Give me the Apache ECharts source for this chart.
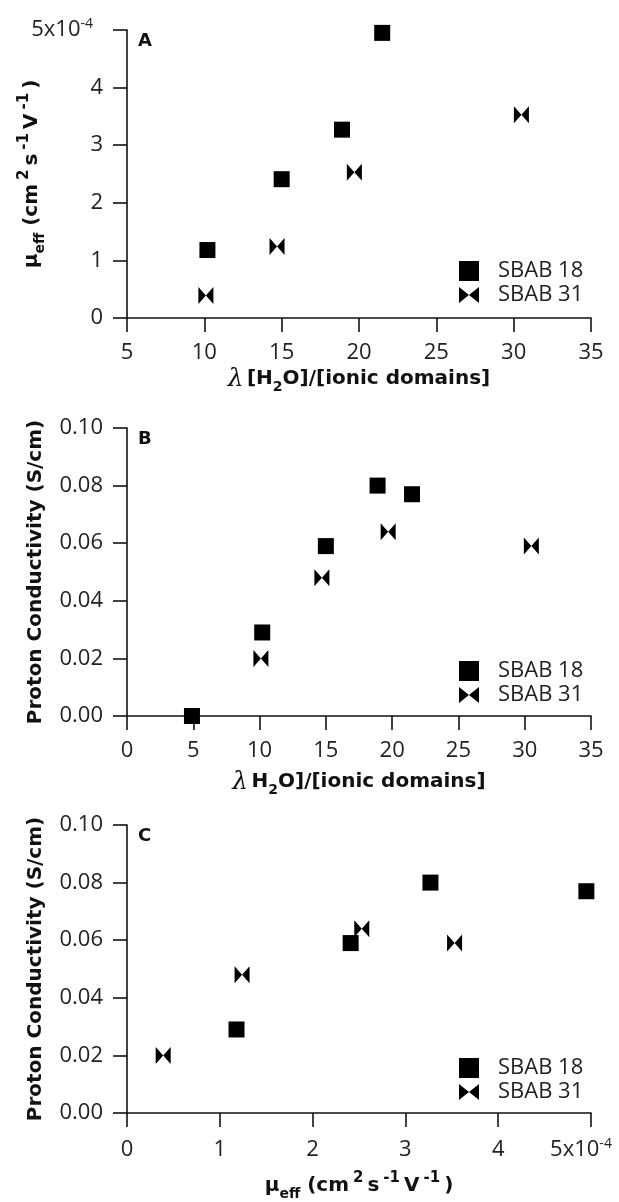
<!DOCTYPE html>
<html>
<head>
<meta charset="utf-8">
<script src="https://cdn.jsdelivr.net/npm/echarts@6/dist/echarts.min.js"></script>
<style>
    html, body { margin: 0; padding: 0; background: #fff; }
    #main { width: 619px; height: 1202px; }
</style>
</head>
<body>
<div id="main"></div>
<script>
// values
var sbab18Lambda = [4.9, 10.2, 15.0, 18.9, 21.5];
var sbab18Mobility = [null, 1.18, 2.41, 3.27, 4.95];   // x1e-4 cm2 s-1 V-1
var sbab18Cond = [0.000, 0.029, 0.059, 0.080, 0.077];  // S/cm

var sbab31Lambda = [10.1, 14.7, 19.7, 30.5];
var sbab31Mobility = [0.39, 1.24, 2.53, 3.53];
var sbab31Cond = [0.020, 0.048, 0.064, 0.059];

var lambdaTicksA = [5, 35, 5];      // min, max, step
var lambdaTicksB = [0, 35, 5];
var mobilityTicks = [0, 5, 1];
var condTicks = [0, 0.1, 0.02];

var seriesNames = ['SBAB 18', 'SBAB 31'];

var bowtie = 'path://M0,0L10,8L0,16ZM20,0L10,8L20,16Z';
var tickFont = '"Open Sans", "DejaVu Sans", sans-serif';
var titleFont = '"DejaVu Sans", Arial, sans-serif';

function pairs(xs, ys) {
    var out = [];
    for (var i = 0; i < xs.length; i++) {
        if (xs[i] == null || ys[i] == null) continue;
        out.push([xs[i], ys[i]]);
    }
    return out;
}

var tops = [30, 428, 825];

var titleRich = {
    b: { fontFamily: titleFont, fontWeight: 'bold', fontSize: 20, color: '#111', lineHeight: 30 },
    lam: { fontFamily: '"DejaVu Serif", serif', fontStyle: 'italic', fontSize: 25, color: '#111', lineHeight: 30 },
    sub: { fontFamily: titleFont, fontWeight: 'bold', fontSize: 14, color: '#111', lineHeight: 14, verticalAlign: 'bottom' },
    sup: { fontFamily: titleFont, fontWeight: 'bold', fontSize: 15, color: '#111', lineHeight: 15, verticalAlign: 'top', padding: [0, 4, 0, 4] }
};
var tickRich = {
    n: { fontFamily: tickFont, fontSize: 22, color: '#222', lineHeight: 26 },
    sx: { fontFamily: tickFont, fontSize: 14, color: '#222', lineHeight: 12, verticalAlign: 'top', padding: [0, 20, 0, 0] },
    sy: { fontFamily: tickFont, fontSize: 14, color: '#222', lineHeight: 12, verticalAlign: 'top', padding: [0, 10, 0, 0] }
};

function baseAxis(ticks, name, gap, extra) {
    var ax = {
        type: 'value',
        min: ticks[0], max: ticks[1], interval: ticks[2],
        splitLine: { show: false },
        axisLine: { lineStyle: { color: '#111', width: 1.6 } },
        axisTick: { inside: false, length: 14, lineStyle: { color: '#111', width: 1.6 } },
        axisLabel: { margin: 24, fontFamily: tickFont, fontSize: 22, color: '#222', rich: tickRich },
        name: name, nameLocation: 'middle', nameGap: gap,
        nameTextStyle: { rich: titleRich }
    };
    for (var k in extra) ax[k] = extra[k];
    return ax;
}

var mobilityTitle = '{b|μ}{sub|eff}{b| (cm}{sup|2}{b|s}{sup|-1}{b|V}{sup|-1}{b|)}';
var condTitle = '{b|Proton Conductivity (S/cm)}';

var xAxes = [
    baseAxis(lambdaTicksA, '{lam|λ} {b|[H}{sub|2}{b|O]/[ionic domains]}', 46, { gridIndex: 0 }),
    baseAxis(lambdaTicksB, '{lam|λ} {b|H}{sub|2}{b|O]/[ionic domains]}', 51, { gridIndex: 1 }),
    baseAxis(mobilityTicks, mobilityTitle, 58, { gridIndex: 2 })
];
xAxes[2].axisLabel = Object.assign({}, xAxes[2].axisLabel, {
    formatter: function (v) { return v === 5 ? '{n|5x10}{sx|-4}' : '{n|' + v + '}'; }
});

var yAxes = [
    baseAxis(mobilityTicks, mobilityTitle, 80, { gridIndex: 0, nameRotate: 90, nameMoveOverlap: false }),
    baseAxis(condTicks, condTitle, 76, { gridIndex: 1, nameRotate: 90 }),
    baseAxis(condTicks, condTitle, 76, { gridIndex: 2, nameRotate: 90 })
];
yAxes[0].axisLabel = Object.assign({}, yAxes[0].axisLabel, {
    formatter: function (v) { return v === 5 ? '{n|5x10}{sy|-4}' : '{n|' + v + '}'; }
});
yAxes[1].axisLabel = Object.assign({}, yAxes[1].axisLabel, {
    formatter: function (v) { return v.toFixed(2); }
});
yAxes[2].axisLabel = Object.assign({}, yAxes[2].axisLabel, {
    formatter: function (v) { return v.toFixed(2); }
});

function scatter(name, idx, data) {
    var sq = name === seriesNames[0];
    return {
        name: name, type: 'scatter',
        xAxisIndex: idx, yAxisIndex: idx,
        symbol: sq ? 'rect' : bowtie,
        symbolSize: sq ? [16, 16] : [15, 17],
        itemStyle: { color: '#000', opacity: 1 },
        data: data
    };
}

var legends = tops.map(function (t, i) {
    return {
        data: seriesNames,
        orient: 'vertical',
        left: 454,
        top: t + [225, 227, 227][i],
        itemWidth: 20, itemHeight: 20, itemGap: 2,
        textStyle: { fontFamily: tickFont, fontSize: 22, color: '#222', padding: [0, 0, 0, 14] },
        selectedMode: false
    };
});

var panelLabels = ['A', 'B', 'C'].map(function (s, i) {
    return {
        text: s, left: 133, top: tops[i] - 3,
        textStyle: { fontFamily: titleFont, fontWeight: 'bold', fontSize: 18, color: '#111' }
    };
});

var myChart = echarts.init(document.getElementById('main'));
var option = {
    backgroundColor: '#fff',
    animation: false,
    title: panelLabels,
    legend: legends,
    grid: tops.map(function (t) {
        return { left: 127, width: 464, top: t, height: 288, containLabel: false, outerBoundsMode: 'none' };
    }),
    xAxis: xAxes,
    yAxis: yAxes,
    series: [
        scatter('SBAB 18', 0, pairs(sbab18Lambda, sbab18Mobility)),
        scatter('SBAB 31', 0, pairs(sbab31Lambda, sbab31Mobility)),
        scatter('SBAB 18', 1, pairs(sbab18Lambda, sbab18Cond)),
        scatter('SBAB 31', 1, pairs(sbab31Lambda, sbab31Cond)),
        scatter('SBAB 18', 2, pairs(sbab18Mobility, sbab18Cond)),
        scatter('SBAB 31', 2, pairs(sbab31Mobility, sbab31Cond))
    ]
};
myChart.setOption(option);
</script>
</body>
</html>
